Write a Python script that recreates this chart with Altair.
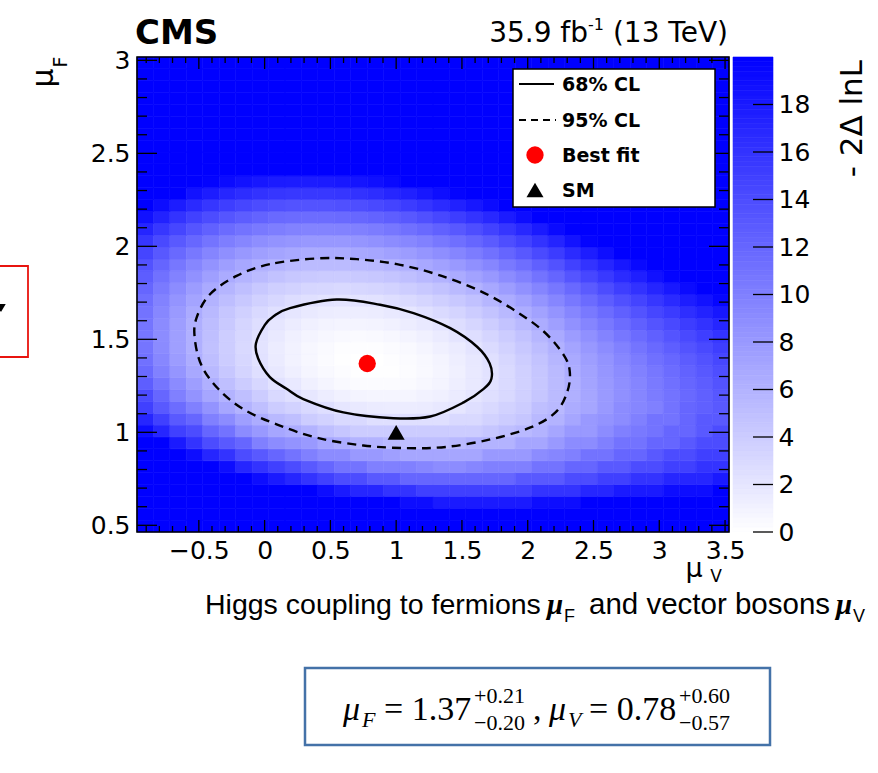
import altair as alt
import pandas as pd

# ---------------- data ----------------
# heat-map cell edges (mu_V horizontally, mu_F vertically)
x_edges = [-0.97, -0.845, -0.72, -0.595, -0.47, -0.345, -0.22, -0.095, 0.03, 0.155,
           0.28, 0.405, 0.53, 0.655, 0.78, 0.905, 1.03, 1.155, 1.28, 1.405,
           1.53, 1.655, 1.78, 1.905, 2.03, 2.155, 2.28, 2.405, 2.53, 2.655,
           2.78, 2.905, 3.03, 3.155, 3.28, 3.405, 3.53]
y_edges = [0.464, 0.528, 0.592, 0.656, 0.719, 0.783, 0.847, 0.911, 0.975, 1.039,
           1.102, 1.166, 1.230, 1.294, 1.358, 1.422, 1.486, 1.549, 1.613, 1.677,
           1.741, 1.805, 1.869, 1.932, 1.996, 2.060, 2.124, 2.188, 2.252, 2.315,
           2.379, 2.443, 2.507, 2.571, 2.635, 2.699, 2.762, 2.826, 2.890, 2.954, 3.018]

# -2 Delta lnL per cell, rows from bottom (mu_F small) to top; 20 = saturated colour
grid = [
    [20] * 36,
    [20] * 36,
    [20] * 16 + [19, 19, 18, 18, 18, 18, 18, 18, 19, 19, 19] + [20] * 9,
    [20] * 11 + [19, 18, 17, 17, 16, 16, 15, 15, 15, 15, 15, 15, 15, 16, 16, 16, 17, 17, 18, 18, 18, 19, 19, 19, 20],
    [20, 20, 20, 20, 20, 20, 20, 19, 18, 17, 16, 15, 14, 14, 13, 13, 12, 12, 12, 12, 12, 12, 12, 13, 13, 13, 14, 14, 15, 15, 16, 16, 17, 17, 17, 18],
    [20, 20, 20, 20, 20, 19, 17, 16, 15, 14, 13, 12, 11, 11, 10, 10, 10, 9.5, 9, 9, 9.5, 10, 10, 10, 11, 11, 12, 12, 13, 13, 14, 14, 15, 15, 16, 16],
    [20, 20, 20, 19, 17, 16, 14, 13, 12, 11, 10, 9, 9, 8, 8, 7.5, 7, 7, 7, 7, 7, 8, 8, 8, 9, 9.5, 10, 11, 11, 12, 12, 13, 14, 14, 15, 15],
    [20, 20, 18, 16, 14, 13, 12, 10, 9, 8.5, 8, 7, 6.5, 6, 6, 5.5, 5, 5, 5, 5.5, 6, 6, 6, 7, 7, 8, 9, 9, 10, 11, 11, 12, 12, 13, 14, 14],
    [19, 17, 15, 14, 12, 11, 9, 8, 7, 6.5, 6, 5, 4.5, 4, 4, 4, 4, 4, 4, 4, 4, 4.5, 5, 5.5, 6, 7, 8, 8, 9, 10, 10.5, 11, 12, 12, 13, 14],
    [17, 15, 13, 12, 10, 9, 7.5, 6.5, 5.5, 5, 4, 3.5, 3, 3, 2.5, 2.5, 2.5, 2.5, 2.5, 3, 3, 3.5, 4, 4.5, 5.5, 6, 7, 8, 8.5, 9, 10, 11, 11, 12, 13, 13],
    [15, 13, 11.5, 10, 8.5, 7, 6, 5, 4, 3.5, 3, 2.5, 2, 1.7, 1.6, 1.5, 1.5, 1.6, 1.8, 2, 2.5, 3, 3.5, 4, 5, 5.5, 6.5, 7, 8, 9, 9.5, 10, 11, 12, 12.5, 13],
    [14, 12, 10, 8.5, 7, 6, 5, 4, 3, 2.5, 1.9, 1.4, 1.1, 0.9, 0.8, 0.8, 0.8, 1, 1.2, 1.6, 2, 2.5, 3, 3.7, 4.5, 5.3, 6.2, 7, 7.9, 8.7, 9.5, 10.3, 11, 11.8, 12.5, 13.2],
    [12.6, 10.8, 9.1, 7.6, 6.2, 5, 4, 3.1, 2.3, 1.7, 1.2, 0.8, 0.5, 0.35, 0.3, 0.3, 0.4, 0.6, 0.9, 1.3, 1.7, 2.3, 2.9, 3.6, 4.4, 5.3, 6.2, 7.1, 8, 8.8, 9.6, 10.4, 11.2, 12, 12.7, 13.5],
    [11.7, 9.9, 8.3, 6.8, 5.5, 4.4, 3.4, 2.5, 1.8, 1.25, 0.8, 0.44, 0.2, 0.08, 0.05, 0.11, 0.26, 0.49, 0.81, 1.2, 1.7, 2.3, 2.9, 3.7, 4.5, 5.4, 6.4, 7.3, 8.2, 9, 9.9, 10.7, 11.5, 12.3, 13.1, 13.9],
    [11.1, 9.4, 7.8, 6.4, 5.1, 4, 3.1, 2.3, 1.6, 1, 0.6, 0.3, 0.1, 0.02, 0.02, 0.12, 0.29, 0.56, 0.9, 1.3, 1.8, 2.4, 3.1, 3.9, 4.7, 5.7, 6.7, 7.6, 8.5, 9.4, 10.3, 11.2, 11.9, 12.8, 13.6, 14.4],
    [10.8, 9.1, 7.5, 6.2, 4.9, 3.9, 3, 2.2, 1.5, 1, 0.64, 0.36, 0.19, 0.13, 0.17, 0.29, 0.49, 0.78, 1.2, 1.6, 2.1, 2.8, 3.5, 4.3, 5.2, 6.1, 7.1, 8.1, 9, 9.9, 10.9, 11.8, 12.6, 13.5, 14.3, 15.1],
    [10.7, 9, 7.5, 6.2, 5, 3.9, 3.1, 2.3, 1.7, 1.2, 0.84, 0.59, 0.44, 0.41, 0.47, 0.61, 0.85, 1.2, 1.6, 2.1, 2.6, 3.3, 4, 4.8, 5.7, 6.7, 7.8, 8.7, 9.7, 10.7, 11.6, 12.5, 13.4, 14.3, 15.1, 16],
    [10.8, 9.1, 7.6, 6.3, 5.2, 4.2, 3.3, 2.6, 2, 1.5, 1.2, 0.97, 0.85, 0.85, 0.93, 1.1, 1.4, 1.7, 2.1, 2.7, 3.2, 3.9, 4.7, 5.5, 6.5, 7.5, 8.6, 9.6, 10.6, 11.5, 12.5, 13.4, 14.3, 15.2, 16.1, 17],
    [11, 9.4, 7.9, 6.6, 5.5, 4.5, 3.7, 3, 2.4, 2, 1.7, 1.5, 1.4, 1.4, 1.5, 1.7, 2, 2.4, 2.9, 3.4, 4, 4.7, 5.5, 6.4, 7.3, 8.4, 9.5, 10.5, 11.5, 12.5, 13.5, 14.5, 15.4, 16.4, 17.3, 18.2],
    [11.4, 9.8, 8.4, 7.1, 6, 5.1, 4.3, 3.6, 3.1, 2.7, 2.4, 2.2, 2.1, 2.2, 2.3, 2.6, 2.9, 3.3, 3.8, 4.3, 4.9, 5.7, 6.5, 7.4, 8.4, 9.5, 10.6, 11.6, 12.7, 13.7, 14.7, 15.7, 16.7, 17.7, 18.6, 19.5],
    [12, 10.4, 9, 7.8, 6.7, 5.8, 5, 4.3, 3.8, 3.5, 3.2, 3.1, 3, 3.1, 3.3, 3.5, 3.9, 4.3, 4.8, 5.4, 6, 6.8, 7.7, 8.6, 9.6, 10.7, 11.8, 12.9, 14, 15.1, 16.1, 17.1, 18.1, 19.1, 20, 20],
    [12.7, 11.1, 9.8, 8.6, 7.5, 6.6, 5.9, 5.3, 4.8, 4.4, 4.2, 4.1, 4.1, 4.2, 4.4, 4.6, 5, 5.5, 6, 6.6, 7.3, 8.1, 9, 9.9, 11, 12.1, 13.3, 14.4, 15.5, 16.6, 17.6, 18.7, 19.7, 20, 20, 20],
    [13.6, 12.1, 10.7, 9.5, 8.5, 7.6, 6.9, 6.3, 5.9, 5.5, 5.3, 5.3, 5.3, 5.4, 5.6, 5.9, 6.3, 6.8, 7.4, 8, 8.7, 9.5, 10.5, 11.4, 12.5, 13.6, 14.9, 16, 17.1, 18.2, 19.3, 20, 20, 20, 20, 20],
    [14.6, 13.1, 11.8, 10.6, 9.6, 8.8, 8.1, 7.5, 7.1, 6.8, 6.6, 6.6, 6.6, 6.8, 7, 7.4, 7.8, 8.3, 8.9, 9.6, 10.3, 11.1, 12.1, 13.1, 14.2, 15.3, 16.6, 17.7, 18.9] + [20] * 7,
    [15.8, 14.3, 13, 11.9, 10.9, 10.1, 9.5, 8.9, 8.5, 8.2, 8.1, 8.1, 8.1, 8.3, 8.6, 9, 9.4, 9.9, 10.6, 11.3, 12, 12.9, 13.9, 14.9, 16, 17.2, 18.5, 19.7] + [20] * 8,
    [17.1, 15.7, 14.5, 13.3, 12.4, 11.6, 11, 10.5, 10.1, 9.8, 9.7, 9.7, 9.8, 10, 10.3, 10.7, 11.2, 11.8, 12.4, 13.1, 13.9, 14.8, 15.8, 16.9, 18, 19.2] + [20] * 10,
    [18.7, 17.3, 16, 14.9, 14, 13.3, 12.7, 12.2, 11.8, 11.6, 11.5, 11.5, 11.7, 11.9, 12.2, 12.6, 13.1, 13.7, 14.4, 15.2, 16, 16.9, 17.9, 19] + [20] * 12,
    [20, 19, 17.8, 16.7, 15.8, 15.1, 14.5, 14, 13.7, 13.5, 13.5, 13.5, 13.7, 13.9, 14.3, 14.7, 15.3, 15.9, 16.6, 17.4, 18.2, 19.1] + [20] * 14,
    [20, 20, 20, 18.6, 17.8, 17, 16.5, 16.1, 15.8, 15.6, 15.6, 15.6, 15.8, 16.1, 16.5, 17, 17.5, 18.2, 18.9, 19.7] + [20] * 16,
    [20, 20, 20, 20, 19.8, 19.1, 18.6, 18.2, 17.9, 17.8, 17.8, 17.9, 18.1, 18.4, 18.8, 19.3] + [20] * 20,
    [20] * 36, [20] * 36, [20] * 36, [20] * 36, [20] * 36,
    [20] * 36, [20] * 36, [20] * 36, [20] * 36, [20] * 36,
]

# 68% CL contour (closed path, first point not repeated)
cl68_x = [-0.066, -0.049, 0.04, 0.167, 0.294, 0.599, 0.979, 1.259, 1.513, 1.665,
          1.724, 1.711, 1.615, 1.411, 1.132, 0.878, 0.548, 0.193, 0.066, 0.002]
cl68_y = [1.478, 1.397, 1.297, 1.234, 1.179, 1.107, 1.076, 1.085, 1.161, 1.234,
          1.288, 1.370, 1.460, 1.560, 1.641, 1.686, 1.714, 1.668, 1.623, 1.578]
# 95% CL contour
cl95_x = [0.396, 0.04, -0.213, -0.417, -0.518, -0.531, -0.48, -0.353, -0.163, 0.091,
          0.396, 0.751, 1.081, 1.386, 1.716, 2.021, 2.211, 2.30, 2.32, 2.274,
          2.122, 1.893, 1.64, 1.31, 1.005, 0.701]
cl95_y = [1.935, 1.904, 1.841, 1.741, 1.614, 1.505, 1.36, 1.234, 1.125, 1.043,
          0.971, 0.929, 0.915, 0.922, 0.962, 1.026, 1.107, 1.216, 1.324, 1.415,
          1.542, 1.659, 1.759, 1.849, 1.904, 1.931]

best_fit_v = [0.78]
best_fit_f = [1.37]
sm_v = [1.0]
sm_f = [1.0]

x_tick_labels = [-0.5, 0, 0.5, 1, 1.5, 2, 2.5, 3, 3.5]
y_tick_labels = [0.5, 1, 1.5, 2, 2.5, 3]
z_tick_labels = [0, 2, 4, 6, 8, 10, 12, 14, 16, 18]

legend_labels = ["68% CL", "95% CL", "Best fit", "SM"]

# ---------------- layout helpers ----------------
W, H = 592, 475          # plot area
X0, Y0 = 137, 57         # plot origin inside the 878x773 canvas
XDOM = [x_edges[0], x_edges[-1]]
YDOM = [y_edges[0], y_edges[-1]]
FONT = "DejaVu Sans"

xscale = alt.Scale(domain=XDOM, nice=False, zero=False)
yscale = alt.Scale(domain=YDOM, nice=False, zero=False)
cscale = alt.Scale(domain=[0, 20], range=["#ffffff", "#0000ff"], clamp=True, interpolate="rgb")
zscale = alt.Scale(domain=[0, 20], nice=False, zero=True)

xaxis = alt.Axis(values=x_tick_labels, format="~g", ticks=False, tickSize=0, domain=False,
                 grid=False, labelFont=FONT, labelFontSize=25, labelColor="black",
                 labelPadding=6, labelFlush=False, labelOverlap=False, title=None)
yaxis = alt.Axis(values=y_tick_labels, format="~g", ticks=False, tickSize=0, domain=False,
                 grid=False, labelFont=FONT, labelFontSize=25, labelColor="black",
                 labelPadding=7, labelFlush=False, labelOverlap=False, title=None)
zaxis = alt.Axis(values=z_tick_labels, format="d", orient="right", offset=44, ticks=False,
                 tickSize=0, domain=False, grid=False, labelFont=FONT, labelFontSize=25,
                 labelColor="black", labelPadding=5, labelFlush=False, labelOverlap=False,
                 title=None)


def X(f):
    return alt.X(f, type="quantitative", scale=xscale, axis=xaxis)


def Y(f):
    return alt.Y(f, type="quantitative", scale=yscale, axis=yaxis)


dummy = pd.DataFrame({"a": [0]})


def txt(s, ax, ay, size, font=FONT, weight="normal", style="normal", align="left",
        baseline="alphabetic", angle=0, color="black"):
    return alt.Chart(dummy).mark_text(
        text=s, font=font, fontSize=size, fontWeight=weight, fontStyle=style,
        align=align, baseline=baseline, angle=angle, color=color
    ).encode(x=alt.value(ax - X0), y=alt.value(ay - Y0))


# ---------------- heat map ----------------
rows = []
for i, row in enumerate(grid):
    for j, v in enumerate(row):
        rows.append({"x0": x_edges[j], "x1": x_edges[j + 1],
                     "y0": y_edges[i], "y1": y_edges[i + 1], "v": v})
heat_df = pd.DataFrame(rows)

heat = alt.Chart(heat_df).mark_rect(strokeWidth=0.6).encode(
    x=X("x0"), x2="x1", y=Y("y0"), y2="y1",
    color=alt.Color("v:Q", scale=cscale, legend=None),
    stroke=alt.Stroke("v:Q", scale=cscale, legend=None),
)

c68 = pd.DataFrame({"x": cl68_x, "y": cl68_y, "o": list(range(len(cl68_x)))})
c95 = pd.DataFrame({"x": cl95_x, "y": cl95_y, "o": list(range(len(cl95_x)))})
line68 = alt.Chart(c68).mark_line(color="black", strokeWidth=2.4, interpolate="cardinal-closed").encode(
    x=X("x"), y=Y("y"), order="o:Q")
line95 = alt.Chart(c95).mark_line(color="black", strokeWidth=2.4, strokeDash=[9, 6],
                                  interpolate="cardinal-closed").encode(
    x=X("x"), y=Y("y"), order="o:Q")

bf = alt.Chart(pd.DataFrame({"x": best_fit_v, "y": best_fit_f})).mark_point(
    shape="circle", filled=True, color="#ff0000", size=300, opacity=1).encode(x=X("x"), y=Y("y"))
smp = alt.Chart(pd.DataFrame({"x": sm_v, "y": sm_f})).mark_point(
    shape="triangle-up", filled=True, color="black", size=290, opacity=1).encode(x=X("x"), y=Y("y"))

# ---------------- inward ROOT-style ticks ----------------
x_minor = [round(-0.9 + 0.1 * i, 1) for i in range(45)]
x_minor = [t for t in x_minor if round(t * 2, 6) != round(t * 2)]
y_minor = [round(0.6 + 0.1 * i, 1) for i in range(25)]
y_minor = [t for t in y_minor if round(t * 2, 6) != round(t * 2)]


def xticks(vals, y1, y2):
    return alt.Chart(pd.DataFrame({"t": vals})).mark_rule(color="black", strokeWidth=1.3).encode(
        x=X("t"), y=alt.value(y1), y2=alt.value(y2))


def yticks(vals, x1, x2):
    return alt.Chart(pd.DataFrame({"t": vals})).mark_rule(color="black", strokeWidth=1.3).encode(
        y=Y("t"), x=alt.value(x1), x2=alt.value(x2))


tick_layers = [
    xticks(x_tick_labels, H, H - 12), xticks(x_minor, H, H - 6),
    xticks(x_tick_labels, 0, 12), xticks(x_minor, 0, 6),
    yticks(y_tick_labels, 0, 20), yticks(y_minor, 0, 10),
    yticks(y_tick_labels, W, W - 20), yticks(y_minor, W, W - 10),
]

frame = alt.Chart(dummy).mark_rect(fillOpacity=0, stroke="black", strokeWidth=1.6).encode(
    x=alt.value(0), x2=alt.value(W), y=alt.value(0), y2=alt.value(H))

# ---------------- legend box ----------------
lg_box = alt.Chart(dummy).mark_rect(fill="white", stroke="black", strokeWidth=1.5).encode(
    x=alt.value(513 - X0), x2=alt.value(715 - X0), y=alt.value(69 - Y0), y2=alt.value(207 - Y0))
lg_l1 = alt.Chart(dummy).mark_rule(color="black", strokeWidth=2.2).encode(
    x=alt.value(519 - X0), x2=alt.value(554 - X0), y=alt.value(84 - Y0))
lg_l2 = alt.Chart(dummy).mark_rule(color="black", strokeWidth=2.2, strokeDash=[7, 5]).encode(
    x=alt.value(519 - X0), x2=alt.value(556 - X0), y=alt.value(120 - Y0))
lg_dot = alt.Chart(dummy).mark_point(shape="circle", filled=True, color="#ff0000", size=300, opacity=1).encode(
    x=alt.value(535 - X0), y=alt.value(155 - Y0))
lg_tri = alt.Chart(dummy).mark_point(shape="triangle-up", filled=True, color="black", size=290, opacity=1).encode(
    x=alt.value(535 - X0), y=alt.value(190 - Y0))
lg_texts = [txt(s, 562, yy, 19, weight="bold", baseline="middle")
            for s, yy in zip(legend_labels, [85, 121, 156, 191])]

# ---------------- colour bar ----------------
steps = [i * 0.2 for i in range(100)]
cb_df = pd.DataFrame({"z0": steps, "z1": [s + 0.2 for s in steps], "zm": [s + 0.1 for s in steps]})
cb_rect = alt.Chart(cb_df).mark_rect(strokeWidth=0.6).encode(
    y=alt.Y("z0:Q", scale=zscale, axis=zaxis), y2="z1",
    x=alt.value(733 - X0), x2=alt.value(773 - X0),
    color=alt.Color("zm:Q", scale=cscale, legend=None),
    stroke=alt.Stroke("zm:Q", scale=cscale, legend=None))
cb_ticks = alt.Chart(pd.DataFrame({"t": z_tick_labels})).mark_rule(color="black", strokeWidth=1.3).encode(
    y=alt.Y("t:Q", scale=zscale, axis=zaxis), x=alt.value(753 - X0), x2=alt.value(773 - X0))
colorbar = alt.layer(cb_rect, cb_ticks)

# ---------------- texts around the plot ----------------
texts = [
    txt("CMS", 135, 44, 34, weight="bold"),
    txt("(13 TeV)", 728, 42, 28, align="right"),
    txt("-1", 604, 30, 16, align="right"),
    txt("35.9 fb", 588, 42, 28, align="right"),
    txt("μ", 44, 78, 30, angle=270, baseline="middle", align="center"),
    txt("F", 61, 62, 19, angle=270, baseline="middle", align="center"),
    txt("μ", 694, 569, 27, baseline="middle", align="center"),
    txt("V", 716, 577, 17, baseline="middle", align="center"),
    txt("- 2Δ lnL", 853, 60, 31, angle=270, baseline="middle", align="right"),
    # caption under the plot
    txt("Higgs coupling to fermions", 205, 614, 28.5, font="Liberation Sans"),
    txt("μ", 547, 614, 29, font="Liberation Serif", weight="bold", style="italic"),
    txt("F", 564, 622, 18, font="Liberation Sans"),
    txt("and vector bosons", 589, 614, 29.5, font="Liberation Sans"),
    txt("μ", 836, 614, 29, font="Liberation Serif", weight="bold", style="italic"),
    txt("V", 853, 622, 18, font="Liberation Sans"),
]

box = alt.Chart(dummy).mark_rect(fill="white", stroke="#4472a8", strokeWidth=2.5).encode(
    x=alt.value(305 - X0), x2=alt.value(770 - X0), y=alt.value(668 - Y0), y2=alt.value(745 - Y0))
SERIF = "Liberation Serif"
formula = [
    txt("μ", 343, 720, 34, font=SERIF, style="italic"),
    txt("F", 362, 727, 22, font=SERIF, style="italic"),
    txt("= 1.37", 384, 720, 34, font=SERIF),
    txt("+0.21", 474, 703, 22, font=SERIF),
    txt("−0.20", 474, 730, 22, font=SERIF),
    txt(",", 533, 720, 34, font=SERIF),
    txt("μ", 549, 720, 34, font=SERIF, style="italic"),
    txt("V", 568, 727, 22, font=SERIF, style="italic"),
    txt("= 0.78", 589, 720, 34, font=SERIF),
    txt("+0.60", 679, 703, 22, font=SERIF),
    txt("−0.57", 679, 730, 22, font=SERIF),
]

# cut-off red frame at the left edge of the slide
red_box = alt.Chart(dummy).mark_rect(fillOpacity=0, stroke="#e8140f", strokeWidth=1.8).encode(
    x=alt.value(-5 - X0), x2=alt.value(28 - X0), y=alt.value(266 - Y0), y2=alt.value(357 - Y0))
red_mark = alt.Chart(dummy).mark_point(shape="triangle-down", filled=True, color="black", size=90, opacity=1).encode(
    x=alt.value(1 - X0), y=alt.value(308 - Y0))

main = alt.layer(heat, line95, line68, bf, smp, *tick_layers, frame,
                 lg_box, lg_l1, lg_l2, lg_dot, lg_tri, *lg_texts)

chart = alt.layer(main, colorbar, *texts, box, *formula, red_box, red_mark).resolve_scale(
    y="independent"
).properties(
    width=W, height=H,
    padding={"left": X0, "top": Y0, "right": 878 - X0 - W, "bottom": 773 - Y0 - H},
    autosize=alt.AutoSizeParams(type="none"),
    background="white",
).configure_view(stroke=None)

chart.save("out.html", embed_options={"renderer": "svg", "actions": False})
